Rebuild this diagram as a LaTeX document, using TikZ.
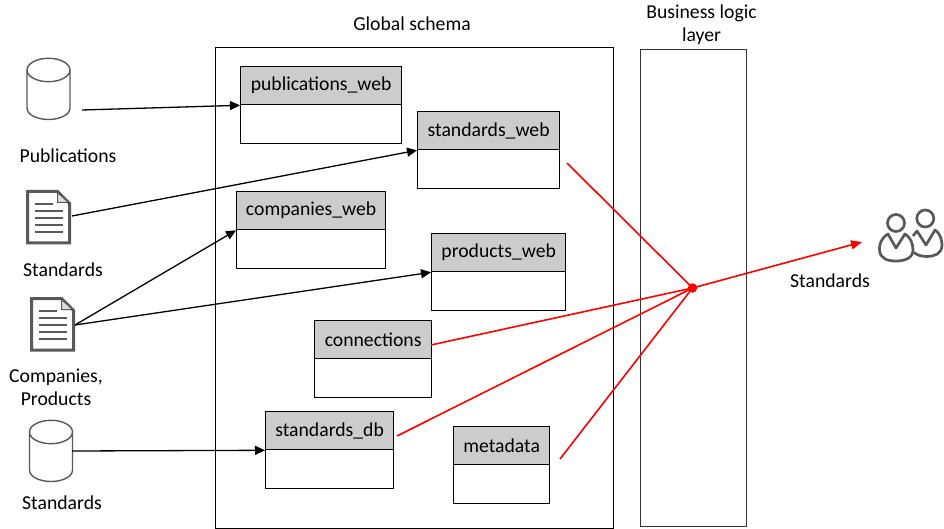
\documentclass[tikz,border=0pt]{standalone}
\usepackage{fontspec}
\setmainfont{Carlito}
\usetikzlibrary{arrows.meta}
\definecolor{hdr}{RGB}{204,204,204}
\definecolor{icon}{RGB}{89,89,89}
\tikzset{
  x=1pt,y=-1pt,
  lbl/.style={font=\fontsize{19.7}{23}\selectfont,inner sep=0pt,align=center,text=black},
  box/.style={draw=black,line width=1.3pt,inner sep=0pt,anchor=north west},
  tblhead/.style={box,fill=hdr},
  tblbody/.style={box,fill=white},
  flow/.style={draw=black,line width=1.3pt,-{Triangle[length=10pt,width=9pt]}},
  redflow/.style={draw=red,line width=1.6pt},
  iconline/.style={draw=icon,line width=1.4pt},
  docline/.style={draw=icon,line width=1.2pt},
  peopleline/.style={draw=icon,line width=2.7pt,line join=round},
}
% \tabl{name}{x}{y}{width}{label}
\newcommand{\tabl}[5]{%
  \node[tblbody,minimum width=#4pt,minimum height=39pt] (#1b) at (#2,#3+38) {};
  \node[tblhead,minimum width=#4pt,minimum height=38pt,lbl] (#1) at (#2,#3) {\raisebox{-1pt}{#5}};
}
\newcommand{\cyl}[2]{%
  \begin{scope}[shift={(#1,#2)}]
    \draw[iconline] (-21.5,0) -- (-21.5,38) .. controls (-21.5,45) and (-11,49.5) .. (0,49.5) .. controls (11,49.5) and (21.5,45) .. (21.5,38) -- (21.5,0);
    \draw[iconline] (0,0) ellipse [x radius=21.5,y radius=11.7];
  \end{scope}}
\newcommand{\doc}[2]{%
  \begin{scope}[shift={(#1,#2)}]
    \draw[draw=icon,line width=3pt,line join=miter] (0,0) -- (30,0) -- (42,12) -- (42,51.5) -- (0,51.5) -- cycle;
    \draw[draw=icon,line width=1pt,fill=hdr!60] (30,1) -- (30,11) -- (41,11) -- cycle;
    \draw[docline] (7,12.5) -- (25,12.5);
    \foreach \yy in {19.5,26.5,33.5,40.5} \draw[docline] (7,\yy) -- (35,\yy);
  \end{scope}}
\begin{document}
\begin{tikzpicture}
\useasboundingbox (0,0) rectangle (944,529);
\node[box,minimum width=398pt,minimum height=481pt] (global) at (215,47) {};
\node[box,draw=black!80,minimum width=106pt,minimum height=477pt] (logic) at (640,49) {};
\node[lbl] (globallbl) at (412,23.5) {Global schema};
\node[lbl] (logiclbl) at (701.5,24.5) {Business logic\\layer};

\tabl{pub}{240}{66}{161}{publications\_web}
\tabl{std}{417}{111}{142}{standards\_web}
\tabl{com}{236}{191}{149}{companies\_web}
\tabl{pro}{431}{233}{134}{products\_web}
\tabl{con}{314}{320}{117}{connections}
\tabl{sdb}{265}{411}{128}{standards\_db}
\tabl{met}{453}{426}{96}{metadata}

\cyl{48.5}{70}
\cyl{51}{432}
\doc{27.5}{191.5}
\doc{31.5}{298.5}

\node[lbl] (l1) at (68,156) {Publications};
\node[lbl] (l2) at (63,270) {Standards};
\node[lbl] (l3) at (56,387.5) {Companies,\\Products};
\node[lbl] (l4) at (62,503) {Standards};
\node[lbl] (l5) at (830,281) {Standards};

% users icon
\draw[peopleline] (896,223) circle [radius=8.5];
\draw[peopleline] (925.3,218.5) circle [radius=8.5];
\draw[peopleline] (888,234) .. controls (881,238) and (879,245) .. (879.5,250) .. controls (880,259) and (888,261) .. (896,261) .. controls (905,261) and (913,258) .. (913,250) .. controls (913,243) and (910,237) .. (905,234) -- (896,248) -- cycle;
\draw[peopleline] (913,236) -- (917,231) -- (926,245) -- (935,230) .. controls (940,233) and (942,240) .. (942,245) .. controls (942,254) and (934,256.5) .. (927,256.5) .. controls (921,256.5) and (917,255) .. (914,252.5);

\coordinate (s1) at (82,110);
\coordinate (s2) at (72,216);
\coordinate (s3) at (75,325);
\coordinate (s4) at (72,451);
\coordinate (hub) at (692.5,288);
\coordinate (r1) at (567,163);
\coordinate (r2) at (431,345);
\coordinate (r3) at (397,436);
\coordinate (r4) at (560,459);
\coordinate (tgt) at (862,242);

\draw[flow] (s1) -- (pub.south west);
\draw[flow] (s2) -- (std.south west);
\draw[flow] (s3) -- (com.south west);
\draw[flow] (s3) -- (pro.south west);
\draw[flow] (s4) -- (sdb.south west);

\draw[redflow] (r1) -- (hub);
\draw[redflow] (r2) -- (hub);
\draw[redflow] (r3) -- (hub);
\draw[redflow] (r4) -- (hub);
\draw[redflow,-{Triangle[length=11pt,width=9pt]}] (hub) -- (tgt);
\node[circle,fill=red,inner sep=0pt,minimum size=9.5pt] (dot) at (hub) {};
\end{tikzpicture}
\end{document}
